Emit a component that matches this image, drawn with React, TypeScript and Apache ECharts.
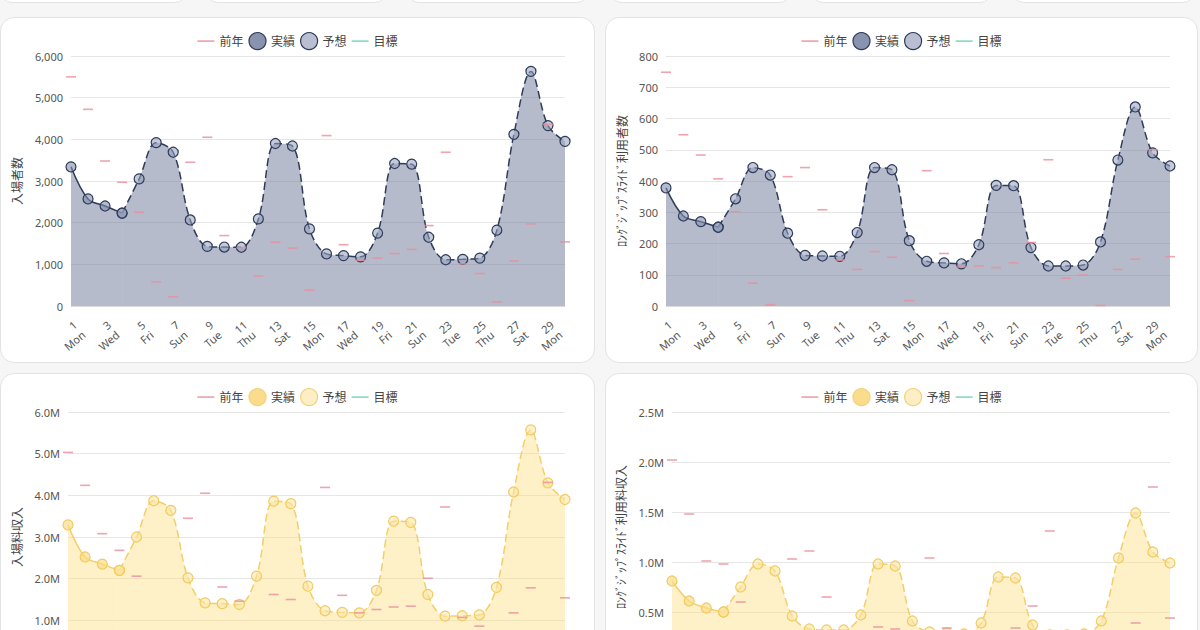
import React, { useEffect, useRef } from "react";
import * as echarts from "echarts";

const dayLabels = [
  "1\nMon", "2\nTue", "3\nWed", "4\nThu", "5\nFri", "6\nSat", "7\nSun",
  "8\nMon", "9\nTue", "10\nWed", "11\nThu", "12\nFri", "13\nSat", "14\nSun",
  "15\nMon", "16\nTue", "17\nWed", "18\nThu", "19\nFri", "20\nSat", "21\nSun",
  "22\nMon", "23\nTue", "24\nWed", "25\nThu", "26\nFri", "27\nSat", "28\nSun",
  "29\nMon", "30\nTue",
];

const actualDays = 4;

const attendance = [3340, 2570, 2400, 2230, 3050, 3920, 3690, 2065, 1430, 1415, 1410, 2090, 3900, 3840, 1850, 1250, 1210, 1180, 1750, 3420, 3405, 1650, 1110, 1120, 1150, 1820, 4120, 5630, 4330, 3950];
const attendancePrev = [5500, 4720, 3480, 2970, 2250, 580, 220, 3450, 4050, 1690, 1400, 720, 1530, 1390, 380, 4090, 1470, 1100, 1150, 1260, 1360, 1930, 3690, 1010, 780, 100, 1080, 1970, 4360, 1540];

const zipUsers = [378, 288, 270, 252, 343, 443, 419, 233, 162, 160, 159, 235, 443, 436, 209, 143, 138, 135, 196, 386, 385, 187, 128, 128, 131, 205, 467, 637, 490, 448];
const zipUsersPrev = [748, 548, 483, 407, 302, 73, 4, 414, 443, 308, 147, 117, 174, 156, 17, 433, 168, 125, 128, 123, 138, 203, 468, 89, 99, 2, 117, 150, 500, 158];

const admission = [3290000, 2520000, 2350000, 2200000, 3000000, 3870000, 3640000, 2020000, 1420000, 1400000, 1380000, 2060000, 3860000, 3800000, 1820000, 1230000, 1190000, 1180000, 1720000, 3380000, 3350000, 1620000, 1100000, 1110000, 1130000, 1790000, 4080000, 5570000, 4300000, 3900000];
const admissionPrev = [5030000, 4240000, 3080000, 2680000, 2060000, 580000, 220000, 3450000, 4050000, 1800000, 1460000, 720000, 1620000, 1500000, 380000, 4190000, 1600000, 1180000, 1260000, 1320000, 1340000, 2010000, 3720000, 1070000, 860000, 100000, 1180000, 1780000, 4310000, 1540000];

const zipRevenue = [810000, 610000, 540000, 500000, 750000, 980000, 910000, 460000, 330000, 320000, 320000, 470000, 980000, 960000, 410000, 300000, 290000, 280000, 390000, 850000, 840000, 370000, 270000, 270000, 280000, 410000, 1040000, 1490000, 1100000, 990000];
const zipRevenuePrev = [2020000, 1480000, 1010000, 980000, 600000, 160000, 10000, 1030000, 1110000, 650000, 310000, 250000, 350000, 330000, 40000, 1040000, 340000, 260000, 270000, 260000, 340000, 560000, 1310000, 190000, 210000, 5000, 250000, 390000, 1750000, 440000];

const legendNames = ["前年", "実績", "予想", "目標"];

const FONT = "'Noto Sans', 'Noto Sans CJK JP', sans-serif";
const PINK = "#ea8f9b";
const GREEN = "#8edcbc";
const LINE_ICON = "path://M0,0 L20,0 L20,2 L0,2 Z";

type Palette = {
  line: string;
  area: string;
  actualFill: string;
  forecastFill: string;
  marker: string;
  legendActual: string;
  legendForecast: string;
  legendBorder: string;
};

const slate: Palette = {
  line: "#2e3b5b",
  area: "rgba(108,120,152,0.5)",
  actualFill: "rgba(130,142,172,0.6)",
  forecastFill: "rgba(150,160,188,0.55)",
  marker: "#2e3b5b",
  legendActual: "#8a93ad",
  legendForecast: "#b9bfd0",
  legendBorder: "#2e3b5b",
};

const yellow: Palette = {
  line: "#f3cf6a",
  area: "rgba(252,222,130,0.45)",
  actualFill: "rgba(251,220,130,0.65)",
  forecastFill: "rgba(252,230,160,0.55)",
  marker: "#f1cb62",
  legendActual: "#fbdc8c",
  legendForecast: "#fdeec6",
  legendBorder: "#f4d27c",
};

type Cfg = {
  values: number[];
  prev: number[];
  name: string;
  nameGap: number;
  max: number;
  interval: number;
  left: number;
  right: number;
  palette: Palette;
  fmt: (v: number) => string;
};

function makeOption(c: Cfg) {
  const p = c.palette;
  const actual = c.values.map((v, i) => (i < actualDays ? v : null));
  const forecast = c.values.map((v, i) => (i >= actualDays - 1 ? v : null));
  return {
    animation: false,
    textStyle: { fontFamily: FONT },
    legend: {
      top: 10,
      left: "center",
      itemWidth: 17,
      itemHeight: 17,
      itemGap: 5,
      textStyle: { fontSize: 12, color: "#444", fontFamily: FONT },
      data: [
        { name: legendNames[0], icon: LINE_ICON, itemStyle: { color: PINK } },
        { name: legendNames[1], icon: "circle", itemStyle: { color: p.legendActual, borderColor: p.legendBorder, borderWidth: 1.2 } },
        { name: legendNames[2], icon: "circle", itemStyle: { color: p.legendForecast, borderColor: p.legendBorder, borderWidth: 1.2 } },
        { name: legendNames[3], icon: LINE_ICON, itemStyle: { color: GREEN } },
      ],
    },
    grid: { left: c.left, right: c.right, top: 39, bottom: 57 },
    xAxis: {
      type: "category",
      data: dayLabels,
      boundaryGap: false,
      axisLine: { lineStyle: { color: "#dcdcdc" } },
      axisTick: { show: false },
      axisLabel: { interval: 1, rotate: 40, fontSize: 11, color: "#555", lineHeight: 13, margin: 12, verticalAlign: "top", fontFamily: FONT },
      splitLine: { show: false },
    },
    yAxis: {
      type: "value",
      min: 0,
      max: c.max,
      interval: c.interval,
      name: c.name,
      nameLocation: "middle",
      nameGap: c.nameGap,
      nameTextStyle: { fontSize: 12, color: "#444", fontFamily: FONT },
      axisLine: { show: false },
      axisTick: { show: false },
      axisLabel: { fontSize: 11, color: "#555", formatter: c.fmt, fontFamily: FONT },
      splitLine: { lineStyle: { color: "#e6e6e6" } },
    },
    series: [
      {
        name: legendNames[0],
        type: "scatter",
        data: c.prev,
        symbol: "rect",
        symbolSize: [10, 1.6],
        itemStyle: { color: PINK },
        z: 5,
      },
      {
        name: legendNames[1],
        type: "line",
        data: actual,
        smooth: 0.35,
        symbol: "circle",
        symbolSize: 10,
        showAllSymbol: true,
        lineStyle: { color: p.line, width: 1.5 },
        itemStyle: { color: p.actualFill, borderColor: p.marker, borderWidth: 1.2 },
        areaStyle: { color: p.area, opacity: 1 },
        z: 3,
      },
      {
        name: legendNames[2],
        type: "line",
        data: forecast,
        smooth: 0.35,
        symbol: "circle",
        symbolSize: 10,
        showAllSymbol: true,
        lineStyle: { color: p.line, width: 1.5, type: [8, 4] },
        itemStyle: { color: p.forecastFill, borderColor: p.marker, borderWidth: 1.2 },
        areaStyle: { color: p.area, opacity: 1 },
        z: 3,
      },
      {
        name: legendNames[3],
        type: "line",
        data: [],
        symbol: "none",
        lineStyle: { color: GREEN, width: 2 },
        itemStyle: { color: GREEN },
      },
    ],
  };
}

const fmtInt = (v: number) => v.toLocaleString("en-US");
const fmtM = (v: number) => (v / 1000000).toFixed(1) + "M";

const charts = [
  { x: 0, y: 17, w: 595, cfg: { values: attendance, prev: attendancePrev, name: "入場者数", nameGap: 47, max: 6000, interval: 1000, left: 71, right: 30, palette: slate, fmt: fmtInt } },
  { x: 605, y: 17, w: 593, cfg: { values: zipUsers, prev: zipUsersPrev, name: "ﾛﾝｸﾞｼﾞｯﾌﾟｽﾗｲﾄﾞ利用者数", nameGap: 36, max: 800, interval: 100, left: 61, right: 28, palette: slate, fmt: fmtInt } },
  { x: 0, y: 373, w: 595, cfg: { values: admission, prev: admissionPrev, name: "入場料収入", nameGap: 44, max: 6000000, interval: 1000000, left: 68, right: 30, palette: yellow, fmt: fmtM } },
  { x: 605, y: 373, w: 593, cfg: { values: zipRevenue, prev: zipRevenuePrev, name: "ﾛﾝｸﾞｼﾞｯﾌﾟｽﾗｲﾄﾞ利用料収入", nameGap: 42, max: 2500000, interval: 500000, left: 67, right: 28, palette: yellow, fmt: fmtM } },
];

const topCards = [
  [0, 187], [206, 387], [407, 589], [610, 791], [811, 992], [1012, 1195],
];

function Chart({ cfg }: { cfg: Cfg }) {
  const ref = useRef<HTMLDivElement>(null);
  useEffect(() => {
    const inst = echarts.init(ref.current!, undefined, { renderer: "svg" });
    inst.setOption(makeOption(cfg) as any);
    return () => inst.dispose();
  }, []);
  return <div ref={ref} style={{ position: "absolute", left: 0, top: 0, width: "100%", height: "100%" }} />;
}

export default function App() {
  return (
    <div style={{ position: "fixed", left: 0, top: 0, width: 1200, height: 630, background: "#f6f6f7", overflow: "hidden" }}>
      {topCards.map(([a, b], i) => (
        <div key={"t" + i} style={{ position: "absolute", left: a, top: -60, width: b - a, height: 63, background: "#fff", border: "1px solid #e3e3e6", borderRadius: 12, boxSizing: "border-box" }} />
      ))}
      {charts.map((c, i) => (
        <div key={i} style={{ position: "absolute", left: c.x, top: c.y, width: c.w, height: 346 }}>
          <div style={{ position: "absolute", inset: 0, background: "#fff", border: "1px solid #e3e3e6", borderRadius: 14, boxSizing: "border-box" }} />
          <Chart cfg={c.cfg as Cfg} />
        </div>
      ))}
    </div>
  );
}
